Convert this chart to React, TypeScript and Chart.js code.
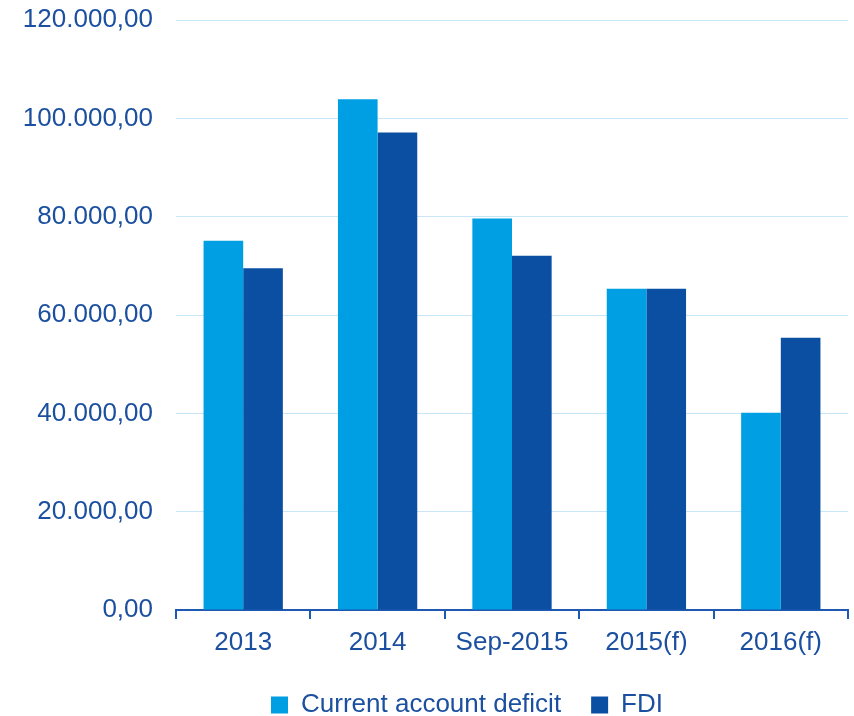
import React, { useEffect, useRef } from "react";
import { Chart, registerables } from "chart.js";

Chart.register(...registerables);

const categories = ["2013", "2014", "Sep-2015", "2015(f)", "2016(f)"];
const currentAccountDeficit = [75100, 103900, 79650, 65350, 40100];
const fdi = [69500, 97100, 72050, 65350, 55350];
const seriesNames = ["Current account deficit", "FDI"];
const yMin = 0;
const yMax = 120000;
const yStep = 20000;

const LIGHT = "#009FE3";
const DARK = "#0B4FA3";
const TEXT = "#1B4F9F";
const AXIS = "#1F58B0";
const GRID = "#C9E6F6";
const FONT = "'Liberation Sans', Arial, sans-serif";

function formatTick(v: number): string {
  const [intPart, dec] = v.toFixed(2).split(".");
  const withDots = intPart.replace(/\B(?=(\d{3})+(?!\d))/g, ".");
  return withDots + "," + dec;
}

const legendShift = {
  id: "legendShift",
  beforeDraw(chart: any) {
    const lg = chart.legend;
    if (lg && !lg._shifted) {
      lg.left += 43;
      lg.right += 43;
      lg._shifted = true;
    }
  },
};

export default function App() {
  const ref = useRef<HTMLCanvasElement | null>(null);
  useEffect(() => {
    if (!ref.current) return;
    const chart = new Chart(ref.current, {
      type: "bar",
      data: {
        labels: categories,
        datasets: [
          {
            label: seriesNames[0],
            data: currentAccountDeficit,
            backgroundColor: LIGHT,
            borderWidth: 0,
          },
          {
            label: seriesNames[1],
            data: fdi,
            backgroundColor: DARK,
            borderWidth: 0,
          },
        ],
      },
      options: {
        animation: false,
        responsive: false,
        maintainAspectRatio: false,
        layout: { padding: { top: 20, right: 6, left: 0, bottom: 0 } },
        datasets: { bar: { categoryPercentage: 0.59, barPercentage: 1.0 } },
        scales: {
          x: {
            grid: {
              offset: true,
              drawOnChartArea: false,
              drawTicks: true,
              tickLength: 9,
              color: AXIS,
              lineWidth: 2,
            },
            border: { display: true, color: AXIS, width: 2 },
            ticks: {
              color: TEXT,
              font: { family: FONT, size: 26 },
              padding: 8,
              maxRotation: 0,
            },
            afterFit(scale: any) {
              scale.height = 52;
            },
          },
          y: {
            min: yMin,
            max: yMax,
            grid: { color: GRID, lineWidth: 1, drawTicks: false },
            border: { display: false },
            ticks: {
              stepSize: yStep,
              color: TEXT,
              font: { family: FONT, size: 26 },
              padding: 23,
              callback: (v: any) => formatTick(Number(v)),
            },
            afterFit(scale: any) {
              scale.width = 176;
              scale.paddingTop = 0;
              scale.paddingBottom = 0;
            },
          },
        },
        plugins: {
          legend: {
            position: "bottom",
            labels: {
              color: TEXT,
              font: { family: FONT, size: 26 },
              boxWidth: 17,
              boxHeight: 17,
              padding: 30,
            },
          },
          tooltip: { enabled: false },
        },
      },
      plugins: [legendShift],
    });
    return () => chart.destroy();
  }, []);
  return (
    <div
      style={{
        position: "fixed",
        left: 0,
        top: 0,
        width: 854,
        height: 716,
        overflow: "hidden",
        background: "#fff",
      }}
    >
      <canvas ref={ref} width={854} height={728} style={{ display: "block" }} />
    </div>
  );
}
